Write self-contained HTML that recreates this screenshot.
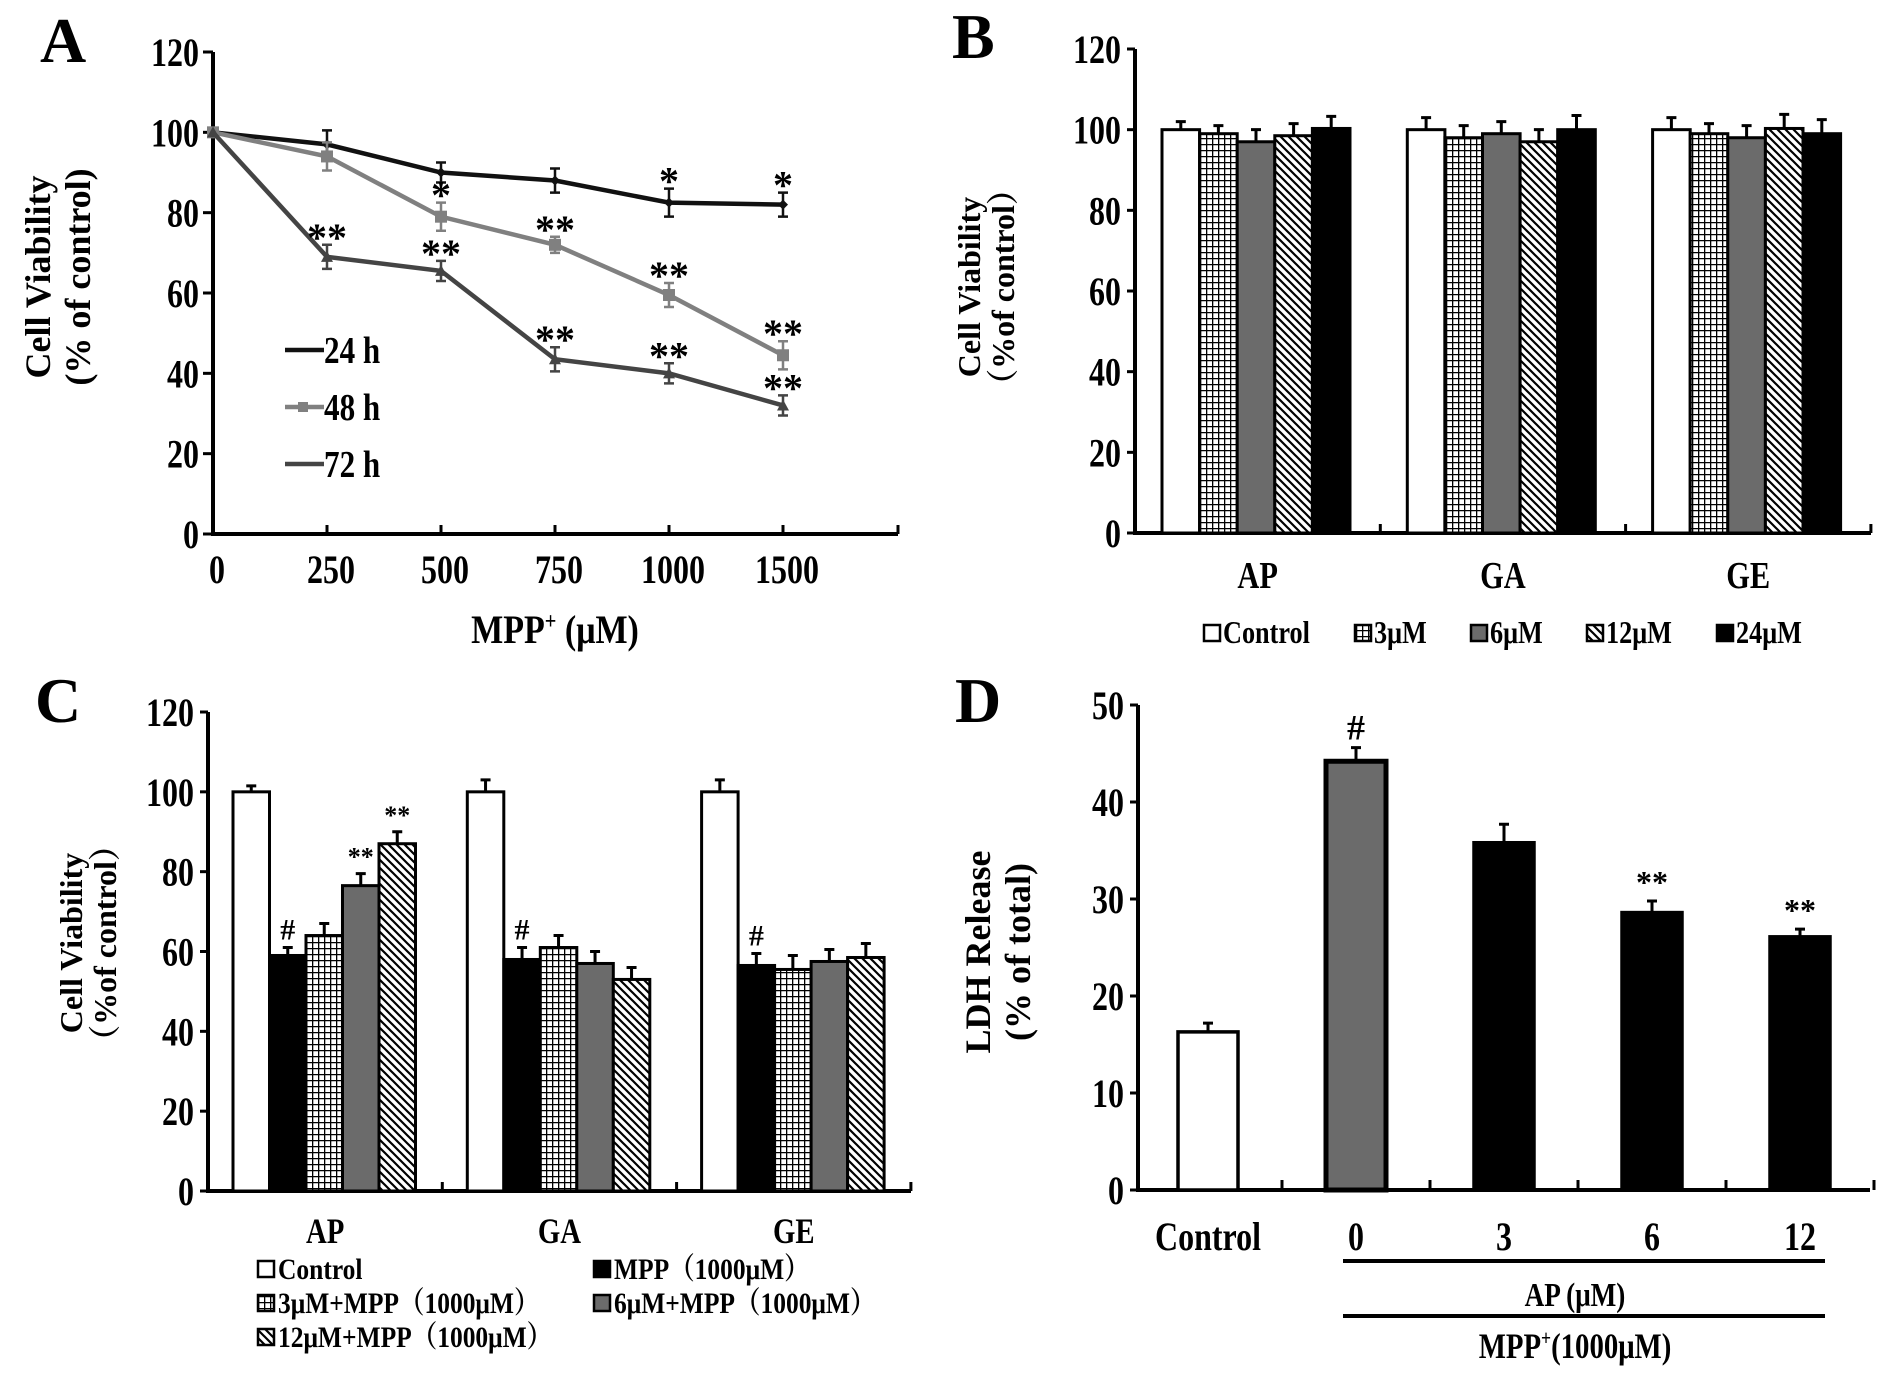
<!DOCTYPE html>
<html><head><meta charset="utf-8"><style>
html,body{margin:0;padding:0;background:#fff}
svg{display:block}
text{font-family:"Liberation Serif","Noto Serif CJK SC",serif;font-weight:bold;fill:#000}
</style></head><body>
<svg id="fig" xmlns="http://www.w3.org/2000/svg" width="1890" height="1384" viewBox="0 0 1890 1384">
<defs>
<pattern id="grid" width="6" height="6" patternUnits="userSpaceOnUse"><rect width="6" height="6" fill="#fff"/><path d="M0 0.5H6M0.5 0V6" stroke="#000" stroke-width="1.6"/></pattern>
<pattern id="hatch" width="8" height="8" patternUnits="userSpaceOnUse"><rect width="8" height="8" fill="#fff"/><path d="M-2 -2L10 10M-2 6L2 10M6 -2L10 2" stroke="#000" stroke-width="2.2"/></pattern>
</defs>
<g id="panelA"></g>
<g id="panelB"></g>
<g id="panelC"></g>
<g id="panelD"></g>
</svg>
<script>
// Panel A data
const aCategories = ["0","250","500","750","1000","1500"];
const a24 = [100,97,90,88,82.5,82];
const a48 = [100,94,79,72,59.5,44.5];
const a72 = [100,69,65.5,43.5,40,32];
const a24Err = [0,3.5,2.5,3,3.5,3];
const a48Err = [0,3.5,3.5,2,3,3.5];
const a72Err = [0,3,2.5,3,2.5,2.5];
const a24Sig = ["","","","","*","*"];
const a48Sig = ["","","*","**","**","**"];
const a72Sig = ["","**","**","**","**","**"];
const aTicks = [0,20,40,60,80,100,120];
// Panel B data
const bGroups = ["AP","GA","GE"];
const bSeriesNames = ["Control","3μM","6μM","12μM","24μM"];
const bControl = [100,100,100];
const b3 = [99,98,99];
const b6 = [97,99,98];
const b12 = [98.5,97,100.3];
const b24 = [100.3,100,99];
const bErr = [[2,3,3],[2,3,2.5],[3,3,3],[3,3,3.5],[3,3.5,3.5]];
const bTicks = [0,20,40,60,80,100,120];
// Panel C data
const cGroups = ["AP","GA","GE"];
const cControl = [100,100,100];
const cMPP = [59,58,56.5];
const c3 = [64,61,55.5];
const c6 = [76.5,57,57.5];
const c12 = [87,53,58.5];
const cErr = [[1.5,3,3],[2,3,3],[3,3,3.5],[3,3,3],[3,3,3.5]];
const cSig = [["","",""],["#","#","#"],["","",""],["**","",""],["**","",""]];
const cTicks = [0,20,40,60,80,100,120];
// Panel D data
const dCategories = ["Control","0","3","6","12"];
const dValues = [16.3,44.2,35.8,28.6,26.1];
const dErr = [0.9,1.4,1.9,1.2,0.8];
const dSig = ["","#","","**","**"];
const dTicks = [0,10,20,30,40,50];

const NS="http://www.w3.org/2000/svg";
function el(parent,tag,attrs,txt){const e=document.createElementNS(NS,tag);for(const k in attrs)e.setAttribute(k,attrs[k]);if(txt!==undefined)e.textContent=txt;parent.appendChild(e);return e;}
function lin(d0,d1,r0,r1){return v=>r0+(v-d0)*(r1-r0)/(d1-d0);}
// condensed text
function T(g,x,y,fs,anchor,str,sx){
  if(sx===undefined)sx=0.8;
  return el(g,'text',{transform:`translate(${x},${y}) scale(${sx},1)`,'font-size':fs,'text-anchor':anchor},str);
}

function yAxis(g,x,y,ticks,fs,tickLen){
  const a=el(g,'line',{x1:x,y1:y(ticks[0])+2,x2:x,y2:y(ticks[ticks.length-1]),stroke:'#000','stroke-width':4});
  
  ticks.forEach(t=>{
    el(g,'line',{x1:x-tickLen,y1:y(t),x2:x,y2:y(t),stroke:'#000','stroke-width':3});
    const tx=T(g,x-14,y(t)+14,fs,'end',String(t));
    
  });
}
function ytitle(g,x,y,lines,fs,gap){
  const t=el(g,'text',{transform:`translate(${x},${y}) rotate(-90)`,'font-size':fs,'text-anchor':'middle','font-family':'"Liberation Sans","Noto Sans CJK SC",sans-serif'});
  
  lines.forEach((l,i)=>{el(t,'tspan',{x:0,dy:i==0?0:gap},l);});
}
function letter(g,x,y,s){const t=el(g,'text',{x:x,y:y,'font-size':64},s);}

// ---------- Panel A
(function(){
  const g=document.getElementById('panelA');
  const x0=213, step=114, y=lin(0,120,534,52);
  const xs=i=>x0+i*step;
  letter(g,40,62,'A');
  yAxis(g,x0,y,aTicks,40,10);
  const ax=el(g,'line',{x1:x0,y1:y(0),x2:898,y2:y(0),stroke:'#000','stroke-width':4});
  
  el(g,'line',{x1:898,y1:y(0)-9,x2:898,y2:y(0),stroke:'#000','stroke-width':3});
  aCategories.forEach((c,i)=>{
    if(i>0)el(g,'line',{x1:xs(i),y1:y(0)-9,x2:xs(i),y2:y(0),stroke:'#000','stroke-width':3});
    const t=T(g,xs(i)+4,583,40,'middle',c);
    
  });
  const xt=el(g,'text',{transform:'translate(555,643) scale(0.85,1)','font-size':40,'text-anchor':'middle'});
  
  el(xt,'tspan',{},'MPP');el(xt,'tspan',{'font-size':24,dy:-14},'+');el(xt,'tspan',{dy:14},' (μM)');
  ytitle(g,50,277,['Cell Viability','(% of control)'],36,40);
  const series=[[a24,a24Err,a24Sig,'#111','diamond','24 h'],[a48,a48Err,a48Sig,'#808080','square','48 h'],[a72,a72Err,a72Sig,'#444','triangle','72 h']];
  series.forEach((s,si)=>{
    const [vals,errs,sig,col,mk,name]=s;
    const sg=el(g,'g',{});
    
    const p=el(sg,'polyline',{points:vals.map((v,i)=>xs(i)+','+y(v)).join(' '),fill:'none',stroke:col,'stroke-width':4.5});
    
    vals.forEach((v,i)=>{
      const e=errs[i];
      if(e>0){el(sg,'path',{d:`M${xs(i)} ${y(v+e)}V${y(v-e)}M${xs(i)-5} ${y(v+e)}H${xs(i)+5}M${xs(i)-5} ${y(v-e)}H${xs(i)+5}`,stroke:col,'stroke-width':2.5,fill:'none'});}
      let m;
      if(mk=='square')m=el(sg,'rect',{x:xs(i)-6,y:y(v)-6,width:12,height:12,fill:col});
      else if(mk=='triangle')m=el(sg,'path',{d:`M${xs(i)-6} ${y(v)+5}L${xs(i)} ${y(v)-6}L${xs(i)+6} ${y(v)+5}Z`,fill:col});
      else m=el(sg,'path',{d:`M${xs(i)-5} ${y(v)}L${xs(i)} ${y(v)-5}L${xs(i)+5} ${y(v)}L${xs(i)} ${y(v)+5}Z`,fill:col});
      
      if(sig[i]){const t=el(sg,'text',{x:xs(i),y:y(v+e)+6,'font-size':40,'text-anchor':'middle','font-weight':'normal'},sig[i]);
        }
    });
    const ly=350+si*57;
    const lg=el(g,'g',{});
    
    el(lg,'line',{x1:285,y1:ly,x2:324,y2:ly,stroke:col,'stroke-width':4.5});
    if(mk=='square')el(lg,'rect',{x:298,y:ly-5,width:10,height:10,fill:col});
    T(lg,324,ly+13,38,'start',name,0.82);
  });
})();

// ---------- grouped bar helper
function groupedBars(g,opt){
  const {x0,gw,pad,bw,y,groups,series,fills,errs,sigs}=opt;
  groups.forEach((gn,gi)=>{
    series.forEach((vals,si)=>{
      const v=vals[gi], bx=x0+gi*gw+pad+si*bw;
      const r=el(g,'rect',{x:bx,y:y(v),width:bw,height:y(0)-y(v),fill:fills[si],stroke:'#000','stroke-width':3});
      
      const e=errs[si][gi], cx=bx+bw/2;
      el(g,'path',{d:`M${cx} ${y(v)}V${y(v+e)}M${cx-5} ${y(v+e)}H${cx+5}`,stroke:'#000','stroke-width':3,fill:'none'});
      if(sigs&&sigs[si][gi]){const t=el(g,'text',{x:cx,y:y(v+e)-8,'font-size':sigs[si][gi]=='#'?30:26,'text-anchor':'middle'},sigs[si][gi]);
        }
    });
  });
}
function legendSwatch(g,x,y,fill){el(g,'rect',{x:x,y:y-16,width:16,height:16,fill:fill,stroke:'#000','stroke-width':2.5});}

// ---------- Panel B
(function(){
  const g=document.getElementById('panelB');
  const x0=1135, gw=245.3, y=lin(0,120,533,49);
  letter(g,952,58,'B');
  yAxis(g,x0,y,bTicks,40,8);
  const ax=el(g,'line',{x1:x0,y1:y(0),x2:1871,y2:y(0),stroke:'#000','stroke-width':4});
  
  for(let i=1;i<=3;i++)el(g,'line',{x1:x0+i*gw,y1:y(0)-9,x2:x0+i*gw,y2:y(0),stroke:'#000','stroke-width':3});
  const fills=['#fff','url(#grid)','#6b6b6b','url(#hatch)','#000'];
  groupedBars(g,{x0,gw,pad:27,bw:37.6,y,groups:bGroups,series:[bControl,b3,b6,b12,b24],fills,errs:bErr});
  bGroups.forEach((c,i)=>{const t=T(g,x0+gw*(i+0.5),588,38,'middle',c);});
  ytitle(g,980,287,['Cell Viability','（%of control）'],32,34);
  const lx=[1204,1355,1471,1587,1717];
  bSeriesNames.forEach((n,i)=>{
    const lg=el(g,'g',{});
    legendSwatch(lg,lx[i],641,fills[i]);
    T(lg,lx[i]+19,643,32,'start',n,0.82);
  });
})();

// ---------- Panel C
(function(){
  const g=document.getElementById('panelC');
  const x0=208, gw=234.3, y=lin(0,120,1191,712);
  letter(g,35,722,'C');
  yAxis(g,x0,y,cTicks,40,8);
  const ax=el(g,'line',{x1:x0,y1:y(0),x2:911,y2:y(0),stroke:'#000','stroke-width':4});
  
  for(let i=1;i<=3;i++)el(g,'line',{x1:x0+i*gw,y1:y(0)-9,x2:x0+i*gw,y2:y(0),stroke:'#000','stroke-width':3});
  const fills=['#fff','#000','url(#grid)','#6b6b6b','url(#hatch)'];
  groupedBars(g,{x0,gw,pad:25,bw:36.5,y,groups:cGroups,series:[cControl,cMPP,c3,c6,c12],fills,errs:cErr,sigs:cSig});
  cGroups.forEach((c,i)=>{const t=T(g,x0+gw*(i+0.5),1243,36,'middle',c);});
  ytitle(g,82,943,['Cell  Viability','（%of control）'],32,34);
  const legs=[[258,1277,fills[0],'Control'],[594,1277,fills[1],'MPP（1000μM）'],[258,1311,fills[2],'3μM+MPP（1000μM）'],[594,1311,fills[3],'6μM+MPP（1000μM）'],[258,1345,fills[4],'12μM+MPP（1000μM）']];
  legs.forEach(l=>{
    const lg=el(g,'g',{});
    legendSwatch(lg,l[0],l[1],l[2]);
    T(lg,l[0]+20,l[1]+2,30,'start',l[3],0.85);
  });
})();

// ---------- Panel D
(function(){
  const g=document.getElementById('panelD');
  const x0=1138, step=148, y=lin(0,50,1190,705);
  letter(g,955,722,'D');
  yAxis(g,x0,y,dTicks,40,8);
  const ax=el(g,'line',{x1:x0,y1:y(0),x2:1870,y2:y(0),stroke:'#000','stroke-width':4});
  
  for(let i=1;i<=5;i++)el(g,'line',{x1:x0+i*step-4,y1:y(0)-10,x2:x0+i*step-4,y2:y(0),stroke:'#000','stroke-width':3});
  const fills=['#fff','#6b6b6b','#000','#000','#000'];
  dCategories.forEach((c,i)=>{
    const cx=x0+step*(i+0.5)-4, bw=60, v=dValues[i];
    const r=el(g,'rect',{x:cx-bw/2,y:y(v),width:bw,height:y(0)-y(v),fill:fills[i],stroke:'#000','stroke-width':i==1?5:3.5});
    
    const e=dErr[i];
    el(g,'path',{d:`M${cx} ${y(v)}V${y(v+e)}M${cx-5} ${y(v+e)}H${cx+5}`,stroke:'#000','stroke-width':3,fill:'none'});
    if(dSig[i]){const t=el(g,'text',{x:cx,y:y(v+e)-8,'font-size':dSig[i]=='#'?36:32,'text-anchor':'middle'},dSig[i]);}
    const t=T(g,cx,1250,40,'middle',c);
    
  });
  el(g,'line',{x1:1343,y1:1261,x2:1825,y2:1261,stroke:'#000','stroke-width':4});
  el(g,'line',{x1:1343,y1:1316,x2:1825,y2:1316,stroke:'#000','stroke-width':4});
  const t1=T(g,1575,1306,34,'middle','AP (μM)');
  
  const t2=el(g,'text',{transform:'translate(1575,1358) scale(0.8,1)','font-size':36,'text-anchor':'middle'});
  
  el(t2,'tspan',{},'MPP');el(t2,'tspan',{'font-size':22,dy:-13},'+');el(t2,'tspan',{dy:13},'(1000μM)');
  ytitle(g,990,952,['LDH Release','(% of total)'],36,40);
})();
</script>
</body></html>
